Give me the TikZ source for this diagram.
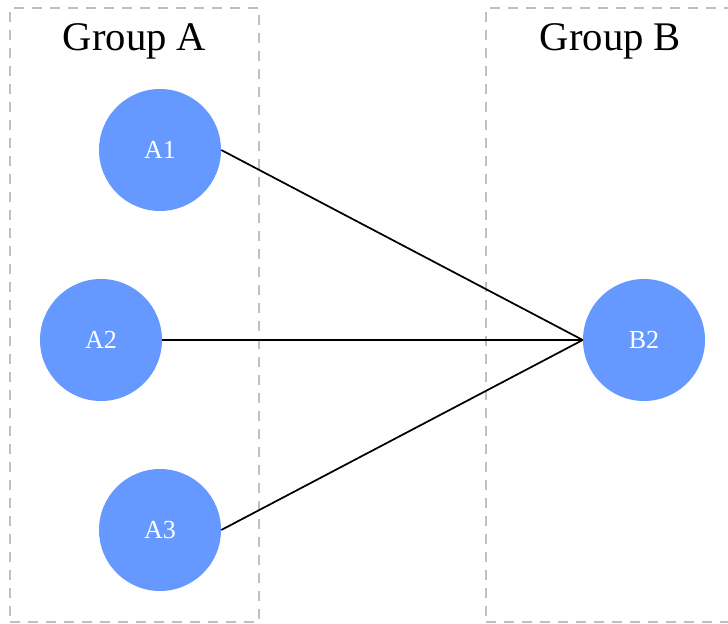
\documentclass[tikz,border=0pt]{standalone}
\usepackage{fontspec}
\setmainfont{Liberation Serif}
\definecolor{nodeblue}{HTML}{6699FF}
\definecolor{groupgray}{HTML}{C0C0C0}
\begin{document}
\begin{tikzpicture}[x=0.75pt,y=-0.75pt,
  groupbox/.style={draw=groupgray,line width=1.5pt,dash pattern=on 7.5pt off 6pt,
    rectangle,minimum width=186.75pt,minimum height=460.5pt,inner sep=0pt},
  grouptitle/.style={font=\fontsize{30.5pt}{36pt}\selectfont,inner sep=0pt},
  member/.style={circle,fill=nodeblue,minimum size=91.5pt,inner sep=0pt,
    text=white,font=\fontsize{19.5pt}{23pt}\selectfont},
  link/.style={draw=black,line width=1.3pt}]
  \useasboundingbox (0,0) rectangle (728,624);
  % group frames
  \node[groupbox] (ga) at (134.5,315) {};
  \node[groupbox] (gb) at (610.5,315) {};
  \node[grouptitle] (ta) at (134.5,41) {Group A};
  \node[grouptitle] (tb) at (610.5,41) {Group B};
  % members
  \node[member] (a1) at (160,150) {A1};
  \node[member] (a2) at (101,340) {A2};
  \node[member] (a3) at (160,530) {A3};
  \node[member] (b2) at (644,340) {B2};
  % links
  \draw[link] (a1.east) -- (b2.west);
  \draw[link] (a2.east) -- (b2.west);
  \draw[link] (a3.east) -- (b2.west);
\end{tikzpicture}
\end{document}
